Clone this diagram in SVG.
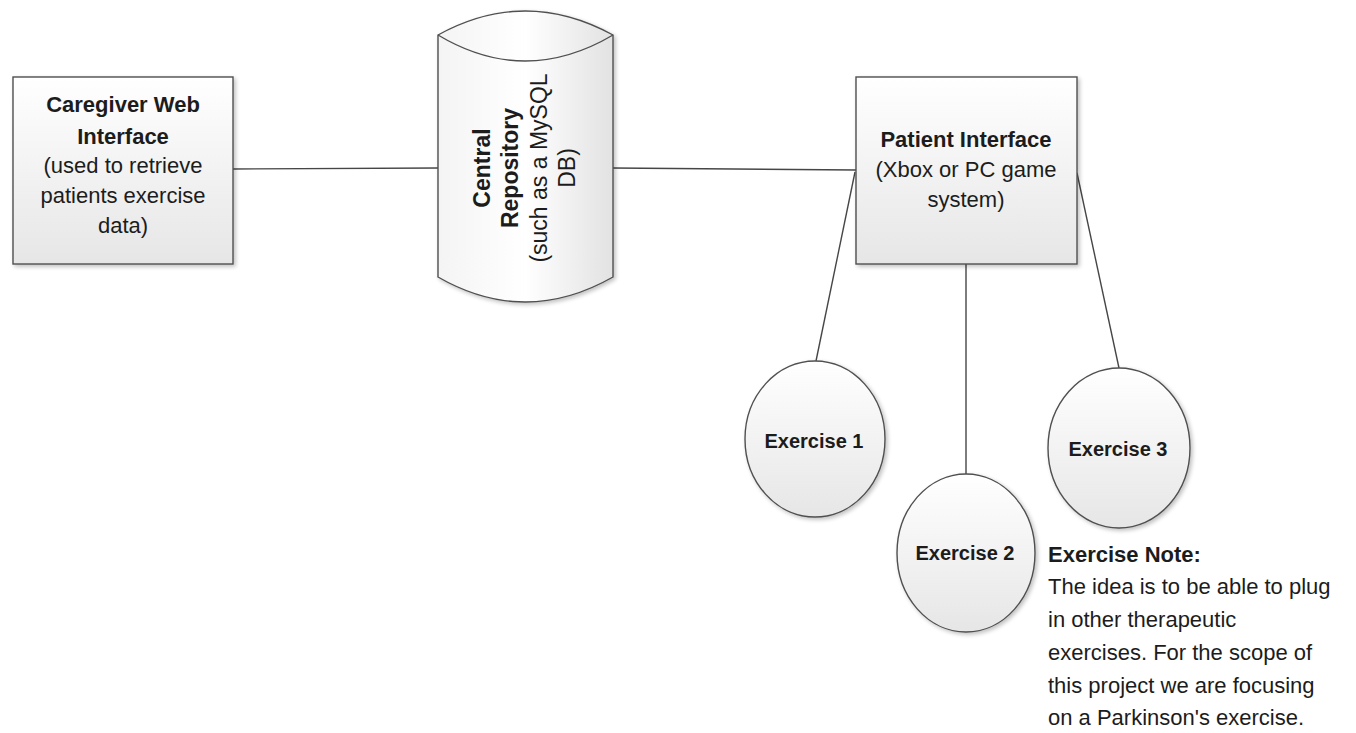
<svg xmlns="http://www.w3.org/2000/svg" width="1356" height="733" viewBox="0 0 1356 733">
<defs>
<linearGradient id="fillg" x1="0" y1="0" x2="0" y2="1">
<stop offset="0" stop-color="#ffffff"/>
<stop offset="1" stop-color="#e6e6e6"/>
</linearGradient>
<linearGradient id="fillh" x1="0" y1="0" x2="1" y2="0">
<stop offset="0" stop-color="#f4f4f4"/>
<stop offset="0.5" stop-color="#ffffff"/>
<stop offset="1" stop-color="#e2e2e2"/>
</linearGradient>
<filter id="sh" x="-10%" y="-10%" width="125%" height="125%">
<feGaussianBlur in="SourceAlpha" stdDeviation="2"/>
<feOffset dx="2" dy="2" result="b"/>
<feComponentTransfer><feFuncA type="linear" slope="0.25"/></feComponentTransfer>
<feMerge><feMergeNode/><feMergeNode in="SourceGraphic"/></feMerge>
</filter>
</defs>
<style>
.shape{fill:url(#fillg);stroke:#505050;stroke-width:1.4;filter:url(#sh)}
.cyl{fill:url(#fillh);stroke:#505050;stroke-width:1.4;filter:url(#sh)}
.cap{fill:none;stroke:#505050;stroke-width:1.4}
.conn{stroke:#464646;stroke-width:1.4;fill:none}
text{font-family:"Liberation Sans",Arial,sans-serif;fill:#1c1c1c}
.b{font-weight:bold;font-size:22px}
.r{font-size:22px}
.c{text-anchor:middle}
.ex{font-weight:bold;font-size:20px;text-anchor:middle}
</style>
<rect width="1356" height="733" fill="#ffffff"/>
<g id="connectors">
<line class="conn" x1="233" y1="169" x2="438" y2="168"/>
<line class="conn" x1="613" y1="168" x2="856" y2="170"/>
<line class="conn" x1="855" y1="172" x2="816" y2="361"/>
<line class="conn" x1="966" y1="264" x2="966" y2="474"/>
<line class="conn" x1="1077" y1="173" x2="1119" y2="368"/>
</g>
<g id="caregiver">
<rect class="shape" x="13" y="77" width="220" height="187"/>
<text class="b c" x="123" y="112">Caregiver Web</text>
<text class="b c" x="123" y="144">Interface</text>
<text class="r c" x="123" y="173">(used to retrieve</text>
<text class="r c" x="123" y="203">patients exercise</text>
<text class="r c" x="123" y="233">data)</text>
</g>
<g id="repository">
<path class="cyl" d="M438,35 Q525,-13 613,35 L613,277 Q525,327 438,277 Z"/>
<path class="cap" d="M438,35 Q525,87 613,35"/>
<g transform="translate(525,168) rotate(-90)">
<text class="c" x="0" y="-35" style="font-weight:bold;font-size:23px">Central</text>
<text class="c" x="0" y="-7" style="font-weight:bold;font-size:23px">Repository</text>
<text class="c" x="0" y="22" style="font-size:23px">(such as a MySQL</text>
<text class="c" x="0" y="50" style="font-size:23px">DB)</text>
</g>
</g>
<g id="patient">
<rect class="shape" x="856" y="77" width="221" height="187"/>
<text class="b c" x="966" y="147">Patient Interface</text>
<text class="r c" x="966" y="177">(Xbox or PC game</text>
<text class="r c" x="966" y="207">system)</text>
</g>
<g id="exercise1">
<ellipse class="shape" cx="815" cy="439" rx="70" ry="78"/>
<text class="ex" x="814" y="448">Exercise 1</text>
</g>
<g id="exercise2">
<ellipse class="shape" cx="966" cy="553" rx="69" ry="79"/>
<text class="ex" x="965" y="560">Exercise 2</text>
</g>
<g id="exercise3">
<ellipse class="shape" cx="1119" cy="448" rx="71" ry="80"/>
<text class="ex" x="1118" y="456">Exercise 3</text>
</g>
<g id="note">
<text class="b" x="1048" y="562">Exercise Note:</text>
<text class="r" x="1048" y="594">The idea is to be able to plug</text>
<text class="r" x="1048" y="627">in other therapeutic</text>
<text class="r" x="1048" y="660">exercises. For the scope of</text>
<text class="r" x="1048" y="693">this project we are focusing</text>
<text class="r" x="1048" y="725">on a Parkinson's exercise.</text>
</g>
</svg>
